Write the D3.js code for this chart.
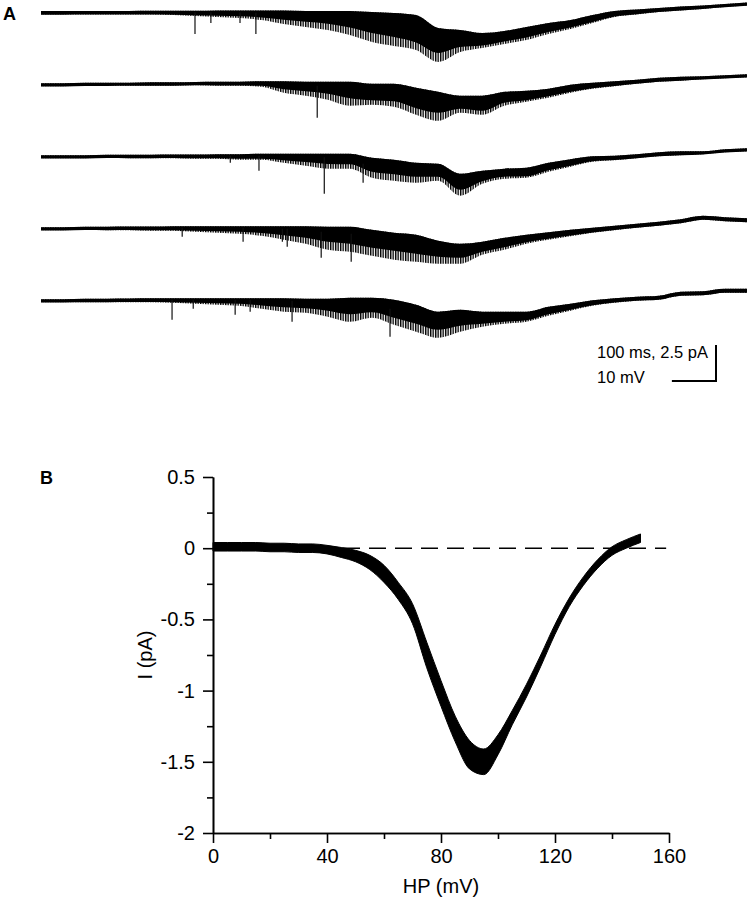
<!DOCTYPE html>
<html>
<head>
<meta charset="utf-8">
<script src="https://cdn.jsdelivr.net/npm/d3@7"></script>
<style>
  body { margin: 0; background: #fff; }
  svg { display: block; font-family: "Liberation Sans", Arial, Helvetica, sans-serif; }
</style>
</head>
<body>
<script>
// ---- panel A: five ramp traces (ms, pA) ----
const sampleMs = [0,50,100,150,200,250,300,350,400,450,500,550,600,650,700,750,800,
  850,900,950,1000,1050,1100,1150,1200,1250,1300,1350,1400,1450,1500,1550,1600];

// band centre, upper edge and lower (spike) edge of each trace
const t1Mid = [0,0,0.01,0.01,0.01,0.03,0.03,0.03,0.03,0.01,-0.01,-0.06,-0.13,-0.19,-0.37,-0.65,-0.92,
  -1.41,-2.03,-1.9,-1.97,-1.69,-1.41,-1.06,-0.78,-0.44,-0.09,0.05,0.19,0.29,0.4,0.5,0.6];
const t1Hi = [0.12,0.12,0.12,0.12,0.12,0.13,0.13,0.13,0.15,0.15,0.15,0.15,0.12,0.12,0.12,0.05,-0.02,
  -0.16,-1.06,-1.2,-1.41,-1.27,-0.99,-0.72,-0.51,-0.16,0.12,0.22,0.33,0.43,0.5,0.6,0.71];
const t1Lo = [-0.13,-0.13,-0.13,-0.13,-0.13,-0.13,-0.16,-0.23,-0.3,-0.37,-0.51,-0.78,-0.99,-1.2,-1.55,-2.03,-2.31,
  -2.59,-3.42,-2.73,-2.45,-2.17,-1.9,-1.48,-1.13,-0.72,-0.3,-0.13,0.05,0.15,0.26,0.4,0.5];

const t2Mid = [0,0,0.03,0.03,0.05,0.07,0.07,0.08,0.1,0.1,0.12,0.07,0,-0.07,-0.28,-0.63,-0.63,
  -1.04,-1.25,-1.25,-1.39,-0.9,-0.83,-0.56,-0.28,-0.07,0.07,0.21,0.35,0.42,0.49,0.56,0.63];
const t2Hi = [0.1,0.1,0.14,0.14,0.14,0.17,0.17,0.19,0.21,0.21,0.24,0.24,0.21,0.21,0.21,0.07,0.07,
  -0.21,-0.49,-0.76,-0.76,-0.49,-0.42,-0.28,0,0.14,0.24,0.35,0.49,0.56,0.59,0.66,0.73];
const t2Lo = [-0.1,-0.1,-0.07,-0.07,-0.07,-0.07,-0.07,-0.03,-0.07,-0.07,-0.14,-0.56,-0.76,-1.04,-1.46,-1.39,-1.53,
  -2.08,-2.5,-1.94,-2.08,-1.46,-1.18,-0.9,-0.56,-0.28,-0.1,0.07,0.21,0.28,0.38,0.45,0.52];

const t3Mid = [0,0,0,0.03,0.03,0.03,0.05,0.05,0.07,0.07,0.07,0.07,0.03,-0.03,-0.07,-0.49,-0.63,
  -0.83,-0.97,-1.74,-1.39,-1.11,-1.11,-0.69,-0.42,-0.14,-0.07,0.03,0.17,0.24,0.28,0.42,0.49];
const t3Hi = [0.1,0.1,0.1,0.14,0.14,0.14,0.15,0.15,0.17,0.17,0.21,0.21,0.21,0.21,0.21,-0.07,-0.21,
  -0.42,-0.49,-1.18,-0.97,-0.83,-0.76,-0.42,-0.17,0.03,0.07,0.17,0.31,0.38,0.38,0.52,0.59];
const t3Lo = [-0.1,-0.1,-0.1,-0.07,-0.1,-0.1,-0.1,-0.14,-0.14,-0.21,-0.21,-0.42,-0.63,-0.83,-0.83,-1.46,-1.67,
  -1.81,-1.67,-2.71,-1.88,-1.53,-1.46,-1.04,-0.69,-0.35,-0.24,-0.1,0.03,0.1,0.17,0.31,0.38];

const t4Mid = [0,0,0.03,0.03,0.05,0.05,0.07,0.07,0.07,0.07,0.03,0,-0.07,-0.21,-0.35,-0.63,-0.76,
  -1.04,-1.32,-1.46,-1.25,-0.97,-0.69,-0.49,-0.28,-0.1,0.07,0.21,0.35,0.52,0.76,0.66,0.59];
const t4Hi = [0.1,0.1,0.14,0.14,0.15,0.15,0.17,0.17,0.17,0.17,0.17,0.17,0.17,0.14,0.14,-0.07,-0.28,
  -0.42,-0.83,-1.04,-0.9,-0.63,-0.42,-0.24,-0.07,0.07,0.21,0.35,0.49,0.66,0.9,0.8,0.73];
const t4Lo = [-0.1,-0.1,-0.07,-0.1,-0.1,-0.14,-0.14,-0.21,-0.28,-0.35,-0.49,-0.76,-1.04,-1.46,-1.6,-1.88,-2.15,
  -2.29,-2.43,-2.43,-1.81,-1.46,-1.04,-0.76,-0.52,-0.28,-0.1,0.07,0.21,0.38,0.63,0.52,0.45];

const t5Mid = [0,0,0.03,0.03,0.05,0.07,0.07,0.07,0.07,0.07,0.03,0,-0.07,-0.14,-0.28,-0.28,-0.56,
  -0.9,-1.32,-1.18,-1.25,-1.18,-1.11,-0.69,-0.42,-0.14,0.03,0.14,0.21,0.49,0.52,0.69,0.69];
const t5Hi = [0.1,0.1,0.14,0.14,0.15,0.17,0.17,0.17,0.17,0.17,0.17,0.17,0.14,0.14,0.21,0.21,0.07,
  -0.28,-0.76,-0.63,-0.76,-0.76,-0.76,-0.42,-0.21,0.03,0.17,0.28,0.35,0.63,0.66,0.83,0.83];
const t5Lo = [-0.1,-0.1,-0.1,-0.1,-0.1,-0.1,-0.14,-0.21,-0.28,-0.35,-0.56,-0.76,-0.83,-1.11,-1.46,-1.18,-1.67,
  -2.15,-2.57,-2.15,-1.81,-1.6,-1.46,-1.04,-0.69,-0.35,-0.14,0,0.07,0.35,0.38,0.56,0.56];

// isolated downward events on the quiet part of each trace: [ms, pA]
const t1Spikes = [[349,-1.48],[385,-0.72],[451,-0.72],[487,-1.48]];
const t2Spikes = [[626,-2.29]];
const t3Spikes = [[429,-0.42],[494,-0.97],[642,-2.57],[730,-1.81]];
const t4Spikes = [[320,-0.56],[458,-0.9],[547,-0.9],[558,-1.25],[635,-2.01],[703,-2.29]];
const t5Spikes = [[297,-1.32],[345,-0.56],[440,-0.97],[474,-0.76],[569,-1.46],[791,-2.5]];

// ---- panel B: I–V curve (HP in mV, I in pA) ----
const hpMv = [0,5,10,15,20,25,30,35,40,45,50,55,60,65,70,75,80,85,90,95,100,
  105,110,115,120,125,130,135,140,145,150];
const currentPa = [0.01,0.01,0.01,0.01,0.005,0.005,0,0,-0.01,-0.03,-0.055,-0.1,-0.18,-0.3,-0.46,-0.75,-1.02,
  -1.27,-1.45,-1.5,-1.38,-1.19,-1,-0.79,-0.57,-0.38,-0.23,-0.11,-0.02,0.03,0.07];
const noisePa = [0.03,0.03,0.03,0.03,0.03,0.03,0.03,0.03,0.03,0.035,0.04,0.05,0.06,0.06,0.07,0.09,0.09,
  0.09,0.1,0.09,0.07,0.05,0.045,0.04,0.035,0.03,0.03,0.03,0.03,0.03,0.03];
const xTicks = [0,40,80,120,160];
const xMinor = [20,60,100,140];
const yTicks = [0.5,0,-0.5,-1,-1.5,-2];
const yMinor = [0.25,-0.25,-0.75,-1.25,-1.75];

const svg = d3.select("body").append("svg").attr("width", 748).attr("height", 900);

// ---------- A ----------
svg.append("text").attr("x", 3).attr("y", 20)
  .attr("font-size", 18).attr("font-weight", "bold").text("A");

const traces = [
  {mid: t1Mid, hi: t1Hi, lo: t1Lo, spikes: t1Spikes},
  {mid: t2Mid, hi: t2Hi, lo: t2Lo, spikes: t2Spikes},
  {mid: t3Mid, hi: t3Hi, lo: t3Lo, spikes: t3Spikes},
  {mid: t4Mid, hi: t4Hi, lo: t4Lo, spikes: t4Spikes},
  {mid: t5Mid, hi: t5Hi, lo: t5Lo, spikes: t5Spikes}
];

const xA = d3.scaleLinear().domain([0, 1600]).range([41, 747]);
const pxPerPa = 14.4, firstBase = 12.7, traceGap = 72;

// fine vertical hatching, so the noisy band reads as a dense trace
const defs = svg.append("defs");
defs.append("pattern")
  .attr("id", "hatch").attr("patternUnits", "userSpaceOnUse")
  .attr("width", 2.5).attr("height", 10)
  .append("rect").attr("width", 1.4).attr("height", 10).attr("fill", "#000");

traces.forEach((tr, i) => {
  const base = firstBase + i * traceGap;
  const yA = d3.scaleLinear().domain([0, -2.5]).range([base, base + 2.5 * pxPerPa]);
  const g = svg.append("g");

  // outer band: full extent of the events
  g.append("path")
    .datum(sampleMs)
    .attr("fill", "url(#hatch)")
    .attr("d", d3.area().curve(d3.curveMonotoneX)
      .x(d => xA(d))
      .y0((d, k) => yA(tr.lo[k]))
      .y1((d, k) => yA(tr.hi[k])));

  // dense core of the band
  g.append("path")
    .datum(sampleMs)
    .attr("fill", "#000")
    .attr("d", d3.area().curve(d3.curveMonotoneX)
      .x(d => xA(d))
      .y0((d, k) => yA((tr.mid[k] + tr.lo[k]) / 2) + 1)
      .y1((d, k) => yA(tr.hi[k])));

  g.append("path")
    .datum(sampleMs)
    .attr("fill", "none").attr("stroke", "#000").attr("stroke-width", 1.3)
    .attr("d", d3.line().curve(d3.curveMonotoneX).x(d => xA(d)).y((d, k) => yA(tr.mid[k])));

  const near = d3.bisector(d => d).center;
  g.selectAll("line.spike").data(tr.spikes).join("line")
    .attr("stroke", "#111").attr("stroke-width", 1.2)
    .attr("x1", d => xA(d[0])).attr("x2", d => xA(d[0]))
    .attr("y1", d => yA(tr.mid[near(sampleMs, d[0])]))
    .attr("y2", d => yA(d[1]));
});

// scale bar: 100 ms (10 mV) horizontal, 2.5 pA vertical
const barX = 716, barY = 381;
const barLen = xA(100) - xA(0);
svg.append("path")
  .attr("fill", "none").attr("stroke", "#000").attr("stroke-width", 2)
  .attr("d", `M${barX - barLen},${barY}H${barX}V${barY - 2.5 * pxPerPa}`);
svg.append("text").attr("x", 597).attr("y", 358).attr("font-size", 16.5).text("100 ms, 2.5 pA");
svg.append("text").attr("x", 597).attr("y", 383).attr("font-size", 16.5).text("10 mV");

// ---------- B ----------
svg.append("text").attr("x", 40).attr("y", 484)
  .attr("font-size", 18).attr("font-weight", "bold").text("B");

const x = d3.scaleLinear().domain([0, 160]).range([213, 669]);
const y = d3.scaleLinear().domain([-2, 0.5]).range([833, 477]);

const axisStyle = g => g
  .call(g => g.selectAll("path, line").attr("stroke", "#000").attr("stroke-width", 1.6))
  .call(g => g.selectAll("text").attr("fill", "#000").attr("font-size", 20)
    .attr("font-family", "\"Liberation Sans\", Arial, sans-serif"));

svg.append("g").attr("transform", `translate(${x(0)},0)`)
  .call(d3.axisLeft(y).tickValues(yMinor).tickSize(6).tickSizeOuter(0).tickFormat(""))
  .call(axisStyle);
svg.append("g").attr("transform", `translate(${x(0)},0)`)
  .call(d3.axisLeft(y).tickValues(yTicks).tickSize(10).tickSizeOuter(0).tickPadding(8)
    .tickFormat(d => String(d)))
  .call(axisStyle);

svg.append("g").attr("transform", `translate(0,${y(-2)})`)
  .call(d3.axisBottom(x).tickValues(xMinor).tickSize(6).tickSizeOuter(0).tickFormat(""))
  .call(axisStyle);
svg.append("g").attr("transform", `translate(0,${y(-2)})`)
  .call(d3.axisBottom(x).tickValues(xTicks).tickSize(10).tickSizeOuter(0).tickPadding(6))
  .call(axisStyle);

// zero reference
svg.append("line")
  .attr("x1", x(0)).attr("x2", x(159)).attr("y1", y(0)).attr("y2", y(0))
  .attr("stroke", "#000").attr("stroke-width", 1.5).attr("stroke-dasharray", "17,9");

// I–V band
svg.append("path")
  .datum(hpMv)
  .attr("fill", "#000").attr("stroke", "#000").attr("stroke-width", 1)
  .attr("d", d3.area().curve(d3.curveMonotoneX)
    .x(d => x(d))
    .y0((d, k) => y(currentPa[k] - noisePa[k]))
    .y1((d, k) => y(currentPa[k] + noisePa[k])));

svg.append("text").attr("x", 441).attr("y", 893).attr("text-anchor", "middle")
  .attr("font-size", 20).text("HP (mV)");
svg.append("text").attr("transform", "translate(152,655) rotate(-90)")
  .attr("text-anchor", "middle").attr("font-size", 20).text("I (pA)");
</script>
</body>
</html>
